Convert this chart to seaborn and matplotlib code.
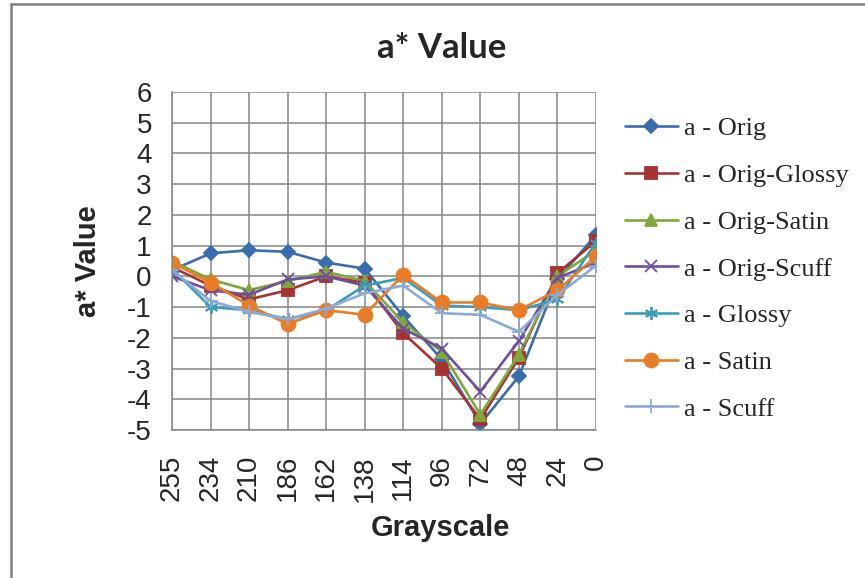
import matplotlib
matplotlib.use('Agg')
import matplotlib.pyplot as plt
import matplotlib.patches as mpatches
import pandas as pd
import seaborn as sns

# data
grayscale = ['255', '234', '210', '186', '162', '138', '114', '96', '72', '48', '24', '0']
a_orig = [0.2, 0.75, 0.85, 0.8, 0.45, 0.25, -1.3, -2.7, -4.8, -3.25, -0.1, 1.35]
a_orig_glossy = [0.3, -0.3, -0.75, -0.45, 0.0, -0.2, -1.85, -3.0, -4.65, -2.65, 0.1, 1.15]
a_orig_satin = [0.5, -0.1, -0.45, -0.15, 0.15, -0.15, -1.5, -2.45, -4.5, -2.55, 0.0, 0.85]
a_orig_scuff = [0.0, -0.45, -0.6, -0.1, 0.0, -0.3, -1.7, -2.35, -3.75, -2.1, -0.05, 0.45]
a_glossy = [0.25, -1.0, -1.1, -1.4, -1.1, -0.3, -0.05, -0.95, -1.0, -1.1, -0.75, 1.1]
a_satin = [0.45, -0.2, -0.95, -1.55, -1.1, -1.25, 0.05, -0.85, -0.85, -1.1, -0.45, 0.65]
a_scuff = [0.2, -0.8, -1.15, -1.4, -1.05, -0.55, -0.3, -1.2, -1.25, -1.8, -0.6, 0.35]

series = ['a - Orig', 'a - Orig-Glossy', 'a - Orig-Satin', 'a - Orig-Scuff',
          'a - Glossy', 'a - Satin', 'a - Scuff']
values = [a_orig, a_orig_glossy, a_orig_satin, a_orig_scuff, a_glossy, a_satin, a_scuff]
colors = ['#3A6DAE', '#A8322F', '#7FA83A', '#6F4E9C', '#3A9EB8', '#E87D25', '#8CA9DA']
markers = ['D', 's', '^', 'x', (6, 2, 0), 'o', '+']
msizes = [7.5, 8.5, 9, 8.5, 9.5, 10, 9.5]

df = pd.DataFrame([(s, g, v) for s, vals in zip(series, values) for g, v in zip(grayscale, vals)],
                  columns=['series', 'grayscale', 'value'])

sns.set_style('white')
fig = plt.figure(figsize=(8.65, 5.78), dpi=100)
ax = fig.add_axes([172 / 865, 1 - 430 / 578, 424 / 865, 338 / 578])

sns.lineplot(data=df, x='grayscale', y='value', hue='series',
             hue_order=series, palette=dict(zip(series, colors)),
             sort=False, linewidth=1.9, legend=False, ax=ax)

# excel-style markers, set per line (seaborn won't mix filled and line markers)
for line, c, m, ms in zip(ax.get_lines(), colors, markers, msizes):
    line.set_marker(m)
    line.set_markeredgecolor(c)
    line.set_markerfacecolor(c)
    line.set_markersize(ms)
    line.set_markeredgewidth(1.3)

ax.set_xlim(0, len(grayscale) - 1)
ax.set_ylim(-5, 6)
ax.set_yticks(range(-5, 7))
ax.set_xticks(range(len(grayscale)))
ax.grid(True, color='#868686', linewidth=1.1)
ax.set_axisbelow(True)
for side in ['top', 'right']:
    ax.spines[side].set_visible(False)
for side in ['left', 'bottom']:
    ax.spines[side].set_color('#868686')
    ax.spines[side].set_linewidth(1.1)

tick_font = ['Liberation Sans Narrow', 'Liberation Sans', 'DejaVu Sans']
ax.set_xticklabels(grayscale, rotation=90, family=tick_font, fontsize=20, va='top')
ax.set_yticklabels([str(v) for v in range(-5, 7)], family=tick_font, fontsize=20)
ax.tick_params(axis='y', length=6.5, width=1.1, color='#868686', pad=8)
ax.tick_params(axis='x', length=0, pad=18)

ax.set_xlabel('Grayscale', family='Liberation Sans', fontweight='bold', fontsize=21)
ax.xaxis.set_label_coords(0.632, -0.25)
ax.set_ylabel('a* Value', family='Liberation Sans', fontweight='bold', fontsize=21)
ax.yaxis.set_label_coords(-0.165, 0.5)

fig.text(442 / 865, 1 - 48 / 578, 'a* Value', family=['Lato', 'DejaVu Sans'],
         fontweight='bold', fontsize=25, ha='center', va='center')

fig.legend(ax.get_lines(), series, loc='upper left', bbox_to_anchor=(625 / 865, 1 - 117 / 578),
           frameon=False, borderpad=0, borderaxespad=0, handlelength=2.0, handletextpad=0.25,
           labelspacing=0.88, prop={'family': 'Liberation Serif', 'size': 19})

fig.patches.append(mpatches.Rectangle((11 / 865, -0.1), 1.2, 1 - 4 / 578 + 0.1, fill=False,
                                      edgecolor='#808080', linewidth=1.8,
                                      transform=fig.transFigure, figure=fig))

fig.savefig('out.png', dpi=100)
